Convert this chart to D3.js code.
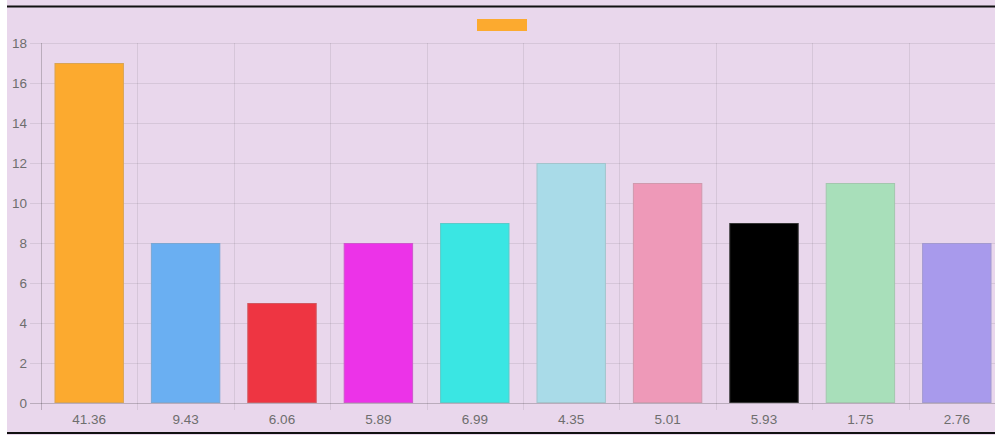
<!DOCTYPE html>
<html><head><meta charset="utf-8">
<script src="https://cdn.jsdelivr.net/npm/d3@7"></script>
<style>html,body{margin:0;padding:0;background:#fff;overflow:hidden}svg{display:block}</style>
</head><body>
<svg id="c" width="995" height="435"></svg>
<script>
const categories = ["41.36","9.43","6.06","5.89","6.99","4.35","5.01","5.93","1.75","2.76"];
const values = [17, 8, 5, 8, 9, 12, 11, 9, 11, 8];
const colors = ["#fcaa2f","#6aaff2","#ee3542","#ec33e8","#3ae6e3","#a9dbe8","#ee99b8","#000000","#a8dfba","#a89aec"];
const yTicks = [0,2,4,6,8,10,12,14,16,18];

const svg = d3.select("#c");
const font = "Liberation Sans, Arial, Helvetica, sans-serif";
const bg = "#e9d7ec";
svg.append("rect").attr("x",7).attr("y",0).attr("width",988).attr("height",435).attr("fill",bg);

const x = d3.scaleBand().domain(categories).range([41, 1005]).paddingInner(0).paddingOuter(0);
const y = d3.scaleLinear().domain([0,18]).range([403,43]);

// horizontal grid
svg.append("g").selectAll("line").data(yTicks).join("line")
  .attr("x1",30).attr("x2",1005).attr("y1",d=>y(d)+0.5).attr("y2",d=>y(d)+0.5)
  .attr("stroke", d=> d===0 ? "rgba(0,0,0,0.2)" : "rgba(0,0,0,0.08)").attr("stroke-width",1);
// vertical grid at boundaries
const bounds = categories.map(c=>x(c));
svg.append("g").selectAll("line").data(bounds).join("line")
  .attr("x1",d=>Math.round(d)+0.5).attr("x2",d=>Math.round(d)+0.5).attr("y1",43).attr("y2",410)
  .attr("stroke",(d,i)=> i===0 ? "rgba(0,0,0,0.2)" : "rgba(0,0,0,0.08)").attr("stroke-width",1);

// bars
const bw = x.bandwidth()*0.72;
svg.append("g").selectAll("rect").data(values).join("rect")
  .attr("x",(d,i)=>x(categories[i]) + (x.bandwidth()-bw)/2 + 0.5)
  .attr("y",d=>y(d)+0.5).attr("width",bw-1).attr("height",d=>y(0)-y(d)-1)
  .attr("fill",(d,i)=>colors[i])
  .attr("stroke",(d,i)=>d3.interpolateRgb(colors[i], "#999")(0.35)).attr("stroke-width",1);

// y axis labels
const ya = svg.append("g").attr("transform","translate(41,0)")
  .call(d3.axisLeft(y).tickValues(yTicks).tickSize(0).tickPadding(14));
ya.select(".domain").remove();
ya.selectAll("text").attr("font-family",font).attr("font-size",13.5).attr("fill","#6e6e6e");

// x axis labels
const xa = svg.append("g").attr("transform","translate(0,403)")
  .call(d3.axisBottom(x).tickSize(0).tickPadding(11));
xa.select(".domain").remove();
xa.selectAll("text").attr("font-family",font).attr("font-size",13.5).attr("fill","#6e6e6e");

// legend box
svg.append("rect").attr("x",477).attr("y",19).attr("width",50).attr("height",12).attr("fill",colors[0]);

// top and bottom border lines
svg.append("rect").attr("x",7).attr("y",5.5).attr("width",988).attr("height",2).attr("fill","#111");
svg.append("rect").attr("x",7).attr("y",432).attr("width",988).attr("height",2).attr("fill","#111");
</script>
</body></html>
